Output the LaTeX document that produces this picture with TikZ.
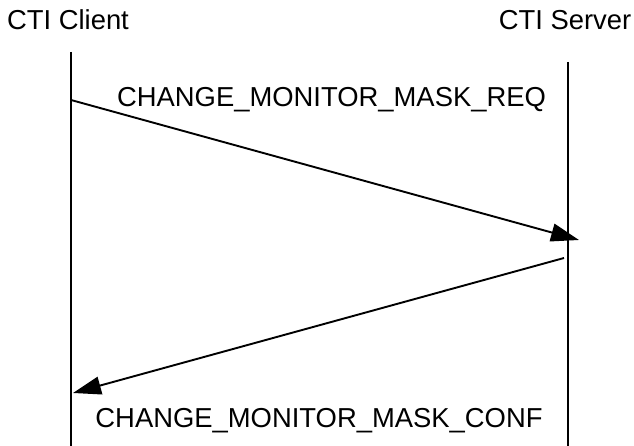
\documentclass[tikz,border=0pt]{standalone}
\usepackage{fontspec}
\setmainfont{Liberation Sans}
\usetikzlibrary{arrows.meta}

\begin{document}
\begin{tikzpicture}[x=1pt,y=-1pt,
    lifeline/.style={line width=1.9pt},
    msg/.style={line width=1.9pt, -{Triangle[length=28pt,width=18pt]}},
    lbl/.style={font=\fontsize{27.4}{32}\selectfont, inner sep=0pt, anchor=base}]
    \useasboundingbox (0,0) rectangle (634,446);
    % parties
    \node[lbl] (client) at (68,30) {CTI Client};
    \node[lbl] (server) at (565,30) {CTI Server};
    \coordinate (clientTop) at (71,52);
    \coordinate (clientBot) at (71,446);
    \coordinate (serverTop) at (568,62);
    \coordinate (serverBot) at (568,446);
    \draw[lifeline] (clientTop) -- (clientBot);
    \draw[lifeline] (serverTop) -- (serverBot);
    % messages
    \coordinate (reqStart) at (71,100);
    \coordinate (reqEnd) at (579,240);
    \draw[msg] (reqStart) -- (reqEnd);
    \node[lbl] (req) at (331.5,107) {CHANGE\_MONITOR\_MASK\_REQ};
    \coordinate (confStart) at (564,258);
    \coordinate (confEnd) at (73,393);
    \draw[msg] (confStart) -- (confEnd);
    \node[lbl] (conf) at (319,427) {CHANGE\_MONITOR\_MASK\_CONF};
\end{tikzpicture}
\end{document}
